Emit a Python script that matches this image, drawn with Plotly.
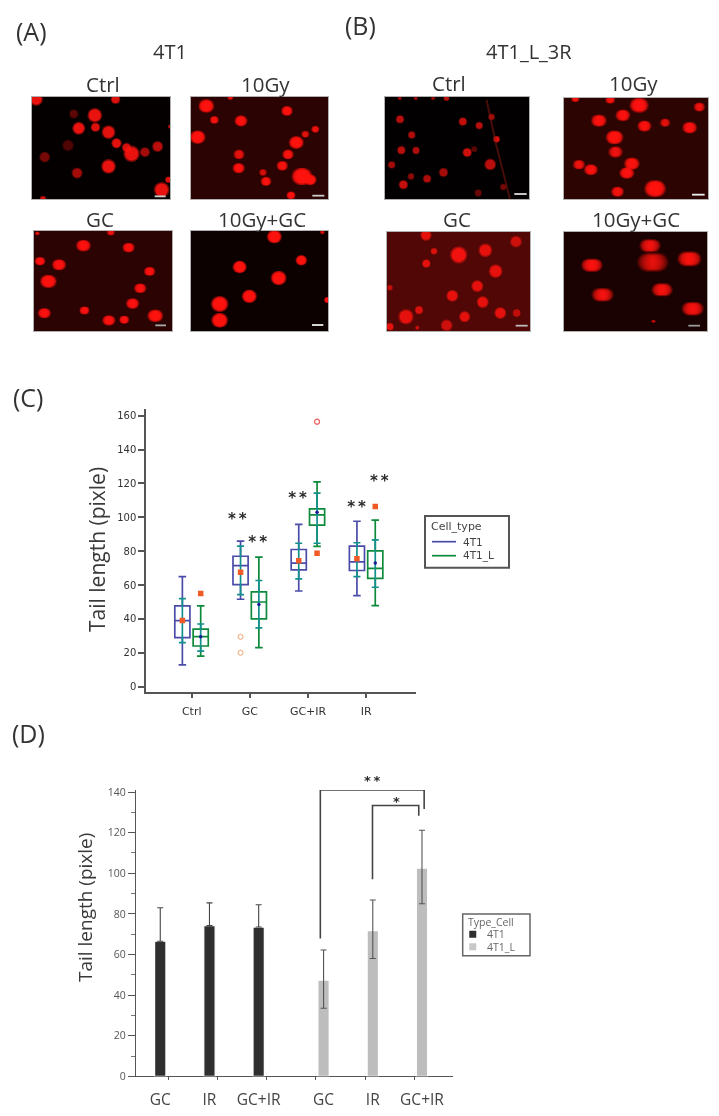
import numpy as np
import plotly.graph_objects as go

W, H = 719, 1116
FONT = "Open Sans"
TICKFONT = "DejaVu Sans"

# ---------- micrograph spots (image coordinates, relative brightness) ----------
a_ctrl_x = [110,347,222,285,287,237,326,350,380,395,435,473,205,135,326,232,485,505,130,510]
a_ctrl_y = [298,298,342,346,382,385,397,430,443,462,457,440,437,472,500,520,570,540,598,380]
a_ctrl_d = [30,22,22,34,22,30,32,24,22,38,24,26,28,26,34,26,36,15,15,10]
a_ctrl_b = [1,.9,.3,1,.9,1,.95,.95,.85,1,.6,.7,.25,.4,1,.6,1,.9,.8,.7]

a_10gy_x = [618,860,642,722,945,915,592,888,716,863,715,846,788,797,905,930,872,690]
a_10gy_y = [318,333,360,363,388,403,412,428,464,464,505,498,518,545,530,540,587,292]
a_10gy_d = [38,28,22,32,20,20,38,36,28,28,30,28,20,26,50,30,22,15]
a_10gy_b = [1,.8,.7,.8,.6,.5,1,1,.5,.7,.8,.7,.4,.8,1,1,.8,.6]

a_gc_x = [250,385,120,177,448,145,420,397,133,253,465,326,372,332,112]
a_gc_y = [737,743,784,795,815,845,866,912,941,933,949,963,961,697,700]
a_gc_d = [36,30,26,34,28,40,30,32,32,24,38,32,24,20,12]
a_gc_b = [.9,.8,.9,.9,.8,1,.8,.9,.9,.9,1,.9,.9,.6,.5]

a_combo_x = [824,905,720,837,749,660,660,983,968]
a_combo_y = [710,781,801,834,889,912,961,900,697]
a_combo_d = [36,28,34,38,36,42,40,16,12]
a_combo_b = [1,.85,1,1,1,1,1,.9,.4]

b_ctrl_x = [181,369,418,455,470,216,185,229,382,403,451,156,311,214,262,191,415,490,180,228,280,320]
b_ctrl_y = [358,365,377,351,418,405,451,452,458,448,494,495,518,530,537,555,580,562,295,295,295,295]
b_ctrl_d = [20,20,18,16,16,18,20,18,22,15,28,18,22,16,20,22,18,16,10,10,10,14]
b_ctrl_b = [.7,.75,.7,.6,.9,.65,.7,.65,.8,.3,.7,.6,.6,.5,.65,.75,.35,.4,.5,.5,.5,.7]

b_10gy_x = [897,1078,848,776,913,975,1049,823,826,875,716,752,860,945,832,705,810]
b_10gy_y = [317,322,347,363,379,369,384,413,457,492,495,510,520,567,576,297,300]
b_10gy_d = [46,28,36,38,34,26,36,42,36,38,30,34,36,52,32,20,24]
b_10gy_b = [.9,.6,.8,.8,.8,.5,.8,1,.6,.85,.6,.8,.9,1,.7,.7,.7]

b_gc_x = [258,528,282,356,436,259,467,412,150,337,428,237,198,374,481,530,320,150,232]
b_gc_y = [707,726,755,766,752,792,815,860,865,889,908,932,952,952,941,941,978,982,985]
b_gc_d = [26,28,16,40,32,20,32,28,14,28,28,20,36,26,28,20,28,18,10]
b_gc_b = [.9,.7,.8,1,.9,.9,.9,.9,.6,.9,.9,.8,.9,.9,.9,.6,.7,.9,.7]

b_combo_x = [930,755,938,1048,966,787,1058,940]
b_combo_y = [738,797,788,778,871,886,928,966]
b_combo_d = [50,50,74,56,50,52,52,12]
b_combo_b = [.75,.9,.55,.85,.8,.75,.8,.4]

panel_names = ["Ctrl", "10Gy", "GC", "10Gy+GC"]
panel_spots = [(a_ctrl_x,a_ctrl_y,a_ctrl_d,a_ctrl_b),(a_10gy_x,a_10gy_y,a_10gy_d,a_10gy_b),
               (a_gc_x,a_gc_y,a_gc_d,a_gc_b),(a_combo_x,a_combo_y,a_combo_d,a_combo_b),
               (b_ctrl_x,b_ctrl_y,b_ctrl_d,b_ctrl_b),(b_10gy_x,b_10gy_y,b_10gy_d,b_10gy_b),
               (b_gc_x,b_gc_y,b_gc_d,b_gc_b),(b_combo_x,b_combo_y,b_combo_d,b_combo_b)]
panel_stretch = [0, .22, .28, .18, 0, .28, 0, .42]
# image extents of each photograph
img_x = [(97,510),(572,983),(102,515),(574,985),(136,567),(671,1104),(141,570),(671,1101)]
img_y = [(291,598),(291,598),(693,995),(693,993),(291,598),(295,598),(697,995),(697,995)]
# position on the page (px)
page_x = [(32,170),(191,328),(34,172),(191,328),(385,529),(564,708),(387,530),(564,707)]
page_y = [(97,199),(97,199),(231,331),(231,331),(97,199),(98,199),(232,331),(232,331)]
panel_bg = ["#040000","#2a0302","#2a0302","#0d0100","#020000","#2c0402","#500705","#190201"]
bar_x = [(464,497),(936,972),(465,497),(937,971),(523,560),(1056,1094),(527,563),(1045,1080)]
bar_y = [590,588,978,975,583,585,979,979]
bar_col = ["#cccccc","#cccccc","#aaaaaa","#eeeeee","#dddddd","#eeeeee","#bbbbbb","#999999"]

# ---------- panel C data ----------
c_cats = ["Ctrl", "GC", "GC+IR", "IR"]
c_t_q1  = [29, 60.3, 69, 68.6]
c_t_med = [39, 71.5, 73, 73.7]
c_t_q3  = [47.7, 77, 81, 83]
c_t_lo  = [12.8, 51.6, 56.5, 53.8]
c_t_hi  = [65, 86, 95.8, 97.7]
c_t_mean= [39, 67.6, 74.3, 75.5]
c_t_sdhi= [52, 83, 84.7, 85]
c_t_sdlo= [26, 54.4, 63.6, 65]

c_l_q1  = [24, 40, 95.4, 64]
c_l_med = [29.5, 50, 101.5, 69.8]
c_l_q3  = [34, 56, 105, 80.2]
c_l_lo  = [18, 23, 82.8, 47.9]
c_l_hi  = [47.7, 76.5, 121, 98.3]
c_l_mean= [29.5, 48.5, 103, 73]
c_l_sdhi= [37, 62.7, 114.3, 86.7]
c_l_sdlo= [21, 34.7, 84.7, 58.7]

out_sq_cat = [0, 2, 3]
out_sq_val = [55, 78.8, 106.4]
out_op_cat = [1, 1]
out_op_val = [29.4, 20]
out_red_cat = [2]
out_red_val = [156.5]

c_star_x = [.784, 1.134, 1.82, 2.176, 2.834, 3.224]
c_star_y = [98.5, 84.8, 110.4, 166, 105.5, 121]

# ---------- panel D data ----------
d_labels = ["GC", "IR", "GC+IR", "GC", "IR", "GC+IR"]
d_t_val = [66.5, 74.2, 73.5]
d_t_top = [83, 85.4, 84.5]
d_l_val = [47.4, 71.7, 102.5]
d_l_top = [62.2, 86.8, 121.2]
d_l_bot = [33.5, 58, 85]
br1_x = [3.09, 3.09, 5.2, 5.2]
br1_y = [67.9, 141, 141, 131.6]
br2_x = [4.15, 4.15, 5.09, 5.09]
br2_y = [97, 133.4, 133.4, 128.3]

# ---------- helpers ----------
def xd(a, b): return [a / W, b / W]
def yd(t, b): return [1 - b / H, 1 - t / H]

fig = go.Figure()
layout = dict(
    template="none",
    width=W, height=H, margin=dict(l=0, r=0, t=0, b=0, pad=0), autosize=False,
    paper_bgcolor="white", plot_bgcolor="white", showlegend=False,
    barmode="overlay", boxmode="overlay", font=dict(family=FONT, color="#333333"),
)
shapes, annos = [], []

def text(x, y, s, size, color="#333333", family=FONT, angle=0, anchor="center"):
    annos.append(dict(text=s, x=x / W, y=1 - y / H, xref="paper", yref="paper", showarrow=False,
                      xanchor=anchor, yanchor="middle", textangle=angle,
                      font=dict(size=size, color=color, family=family)))

def page_rect(x0, y0, x1, y1, fill, line, lw):
    shapes.append(dict(type="rect", xref="paper", yref="paper", x0=x0 / W, x1=x1 / W, y0=1 - y0 / H, y1=1 - y1 / H,
                       fillcolor=fill, line=dict(color=line, width=lw)))

def page_line(x0, x1, y, color, lw):
    shapes.append(dict(type="line", xref="paper", yref="paper", x0=x0 / W, x1=x1 / W, y0=1 - y / H, y1=1 - y / H,
                       line=dict(color=color, width=lw)))

# ---------- micrographs ----------
for i, (sx, sy, sd, sb) in enumerate(panel_spots):
    n = i + 1
    sfx = "" if n == 1 else str(n)
    layout[f"xaxis{sfx}"] = dict(domain=xd(*page_x[i]), range=list(img_x[i]), showticklabels=False, automargin=False,
                                 ticks="", showgrid=False, zeroline=False, showline=True, mirror=True,
                                 linecolor="#b0b0b0", linewidth=1, anchor=f"y{sfx}", layer="below traces")
    layout[f"yaxis{sfx}"] = dict(domain=yd(*page_y[i]), range=[img_y[i][1], img_y[i][0]], showticklabels=False,
                                 automargin=False, ticks="", showgrid=False, zeroline=False, showline=True, mirror=True,
                                 linecolor="#b0b0b0", linewidth=1, anchor=f"x{sfx}", layer="below traces")
    shapes.append(dict(type="rect", xref=f"x{sfx} domain", yref=f"y{sfx} domain", x0=0, x1=1, y0=0, y1=1,
                       fillcolor=panel_bg[i], line_width=0, layer="below"))
    t = panel_stretch[i]
    zd = np.array(sd, dtype=float)
    steps = [0] if t == 0 else [-1, -.5, 0, .5, 1]
    for scale, op in [(1.3, .45), (1.05, .85)]:
        px = np.concatenate([np.array(sx) + k * .6 * t * zd for k in steps])
        py = np.concatenate([np.array(sy, dtype=float) for _ in steps])
        pd_ = np.concatenate([(zd / 3) * scale * (1 - .9 * t) for _ in steps])
        # copies overlap, so each contributes less light
        pb = np.concatenate([np.array(sb) * op * (1 if t == 0 else .55) for _ in steps])
        fig.add_trace(go.Scatter(x=px, y=py, mode="markers", showlegend=False, hoverinfo="skip",
                                 xaxis=f"x{sfx}", yaxis=f"y{sfx}",
                                 marker=dict(size=pd_, color="#ff1410", opacity=pb, line_width=0)))
    fig.add_trace(go.Scatter(x=list(bar_x[i]), y=[bar_y[i]] * 2, mode="lines", showlegend=False, hoverinfo="skip",
                             xaxis=f"x{sfx}", yaxis=f"y{sfx}", line=dict(color=bar_col[i], width=1.8)))

streak_x = [440, 470, 510]
streak_y = [300, 440, 598]
fig.add_trace(go.Scatter(x=streak_x, y=streak_y, mode="lines", xaxis="x5", yaxis="y5", showlegend=False,
                         hoverinfo="skip", line=dict(color="rgba(140,25,15,0.5)", width=2)))

text(31, 31, "(A)", 25); text(360, 25, "(B)", 25)
text(170, 52, "4T1", 20); text(529, 52, "4T1_L_3R", 20)
sub_x = [103, 265, 100, 262, 449, 633, 457, 636]
sub_y = [84, 84, 219, 219, 83, 83, 219, 219]
for i in range(8):
    text(sub_x[i], sub_y[i], panel_names[i % 4], 20.5)

# ---------- panel C ----------
BLUE, GREEN, TEAL = "#4a4ca8", "#0d8a3a", "#12908e"
ORANGE = "#ef5a26"
cpos = np.arange(4)
off_t, off_l = -.16, .155
layout["xaxis9"] = dict(domain=xd(146, 415.7), range=[-.785, 3.85], anchor="y9", tickvals=list(cpos),
                        ticktext=c_cats, ticks="outside", ticklen=5, tickwidth=1.5, tickcolor="#555555", automargin=False,
                        showgrid=False, zeroline=False, showline=True, linecolor="#555555", linewidth=1.5,
                        tickfont=dict(size=11, family=TICKFONT, color="#333333"), ticklabelstandoff=3)
layout["yaxis9"] = dict(domain=yd(409, 691.7), range=[-3, 164], anchor="x9", tickvals=list(range(0, 161, 20)),
                        ticks="outside", ticklen=6, tickwidth=1.5, tickcolor="#555555", automargin=False,
                        showgrid=False, zeroline=False, showline=True, linecolor="#555555", linewidth=1.5,
                        tickfont=dict(size=10, family=TICKFONT, color="#333333"))

def boxes(pos, q1, med, q3, lo, hi, color):
    fig.add_trace(go.Box(x=list(pos), q1=q1, median=med, q3=q3, lowerfence=lo, upperfence=hi,
                         width=.26, whiskerwidth=.5, boxpoints=False, showlegend=False, hoverinfo="skip",
                         fillcolor="rgba(0,0,0,0)", line=dict(color=color, width=1.7),
                         xaxis="x9", yaxis="y9"))

def means(pos, mean, sdhi, sdlo, symbol, color, size):
    fig.add_trace(go.Scatter(x=list(pos), y=mean, mode="markers", showlegend=False, hoverinfo="skip",
                             xaxis="x9", yaxis="y9", marker=dict(symbol=symbol, color=color, size=size),
                             error_y=dict(type="data", symmetric=False,
                                          array=list(np.array(sdhi) - np.array(mean)),
                                          arrayminus=list(np.array(mean) - np.array(sdlo)),
                                          color=TEAL, thickness=1.7, width=3.5)))

boxes(cpos + off_t, c_t_q1, c_t_med, c_t_q3, c_t_lo, c_t_hi, BLUE)
boxes(cpos + off_l, c_l_q1, c_l_med, c_l_q3, c_l_lo, c_l_hi, GREEN)
means(cpos + off_t, c_t_mean, c_t_sdhi, c_t_sdlo, "square", ORANGE, 5.5)
means(cpos + off_l, c_l_mean, c_l_sdhi, c_l_sdlo, "circle", "#1a1a9a", 3.5)
fig.add_trace(go.Scatter(x=np.array(out_sq_cat) + off_l, y=out_sq_val, mode="markers", showlegend=False,
                         hoverinfo="skip", xaxis="x9", yaxis="y9",
                         marker=dict(symbol="square", color=ORANGE, size=5.5)))
fig.add_trace(go.Scatter(x=np.array(out_op_cat) + off_t, y=out_op_val, mode="markers", showlegend=False,
                         hoverinfo="skip", xaxis="x9", yaxis="y9",
                         marker=dict(symbol="circle-open", color="#f2a070", size=5, line_width=1)))
fig.add_trace(go.Scatter(x=np.array(out_red_cat) + off_l, y=out_red_val, mode="markers", showlegend=False,
                         hoverinfo="skip", xaxis="x9", yaxis="y9", cliponaxis=False,
                         marker=dict(symbol="circle-open", color="#ee5a5a", size=5, line_width=1.2)))
fig.add_trace(go.Scatter(x=c_star_x, y=c_star_y, mode="text", text=["<b>*\u2009*</b>"] * 6, showlegend=False,
                         hoverinfo="skip", xaxis="x9", yaxis="y9", cliponaxis=False,
                         textfont=dict(size=15, family=TICKFONT, color="#2a2a2a")))

# legend of panel C
page_rect(425, 516, 509, 567.7, "white", "#555555", 2)
text(429, 526.5, "Cell_type", 11, "#444444", TICKFONT, anchor="left")
page_line(432, 456, 541.7, BLUE, 1.7); text(461, 541.7, "4T1", 10.5, "#444444", TICKFONT, anchor="left")
page_line(432, 456, 555.7, GREEN, 1.7); text(461, 555.7, "4T1_L", 10.5, "#444444", TICKFONT, anchor="left")

text(97, 550, "Tail length (pixle)", 21, "#3a3a3a", angle=-90)
text(29, 397, "(C)", 25)

# ---------- panel D ----------
dpos = np.arange(6)
dbar_t = dpos[:3] - .163
dbar_l = dpos[3:] + .156
xr = [-.656, 5.78]
layout["xaxis10"] = dict(domain=xd(136, 452.7), range=xr, anchor="y10", tickvals=list(dpos), ticktext=[""] * 6,
                         ticks="outside", ticklen=3, tickwidth=1, tickcolor="#555555", showgrid=False, automargin=False,
                         zeroline=False, showline=True, linecolor="#555555", linewidth=1.2, layer="below traces")
layout["xaxis11"] = dict(domain=xd(136, 452.7), range=xr, anchor="y10", overlaying="x10", automargin=False,
                         tickvals=list(dbar_t) + list(dbar_l), ticktext=d_labels, ticks="", showgrid=False,
                         zeroline=False, showline=False, ticklabelstandoff=12,
                         tickfont=dict(size=15.5, family=FONT, color="#444444"))
layout["yaxis10"] = dict(domain=yd(790, 1076.3), range=[0, 141], anchor="x10", tickvals=list(range(0, 141, 20)),
                         ticks="outside", ticklen=7, tickwidth=1, tickcolor="#555555", showgrid=False, automargin=False,
                         zeroline=False, showline=True, linecolor="#555555", linewidth=1.2,
                         minor=dict(dtick=10, ticks="outside", ticklen=4, tickcolor="#777777"),
                         tickfont=dict(size=10.5, family=FONT, color="#555555"))
for bx, by in [(br1_x, br1_y), (br2_x, br2_y)]:
    fig.add_trace(go.Scatter(x=bx, y=by, mode="lines", showlegend=False, hoverinfo="skip", cliponaxis=False,
                             xaxis="x10", yaxis="y10", line=dict(color="#444444", width=1.6)))
err_t = np.array(d_t_top) - np.array(d_t_val)
fig.add_trace(go.Bar(x=list(dbar_t), y=d_t_val, width=.23, name="4T1", showlegend=False, xaxis="x11", yaxis="y10",
                     marker=dict(color="#2f2f2f", line=dict(color="white", width=1.2)), hoverinfo="skip",
                     error_y=dict(type="data", symmetric=False, array=list(err_t), arrayminus=[0, 0, 0],
                                  color="#444444", thickness=1.1, width=3)))
fig.add_trace(go.Bar(x=list(dbar_l), y=d_l_val, width=.23, name="4T1_L", showlegend=False, xaxis="x11", yaxis="y10",
                     marker=dict(color="#bdbdbd", line=dict(color="white", width=1.2)), hoverinfo="skip",
                     error_y=dict(type="data", symmetric=False,
                                  array=list(np.array(d_l_top) - np.array(d_l_val)),
                                  arrayminus=list(np.array(d_l_val) - np.array(d_l_bot)),
                                  color="#555555", thickness=1.1, width=3)))

# legend of panel D
page_rect(462.7, 914, 530, 955.7, "white", "#666666", 1.5)
text(466, 921.7, "Type_Cell", 10.5, "#666666", FONT, anchor="left")
page_rect(469.5, 931, 476, 937.5, "#2f2f2f", "#2f2f2f", 0.5)
text(484.5, 934.2, "4T1", 10.5, "#666666", FONT, anchor="left")
page_rect(469.5, 943.5, 476, 950, "#c8c8c8", "#c8c8c8", 0.5)
text(484.5, 946.7, "4T1_L", 10.5, "#666666", FONT, anchor="left")

text(85, 908, "Tail length (pixle)", 19, "#3a3a3a", angle=-90)
text(29, 733, "(D)", 25)
text(372, 780, "<b>*\u2009*</b>", 13, "#2a2a2a", family=TICKFONT)
text(396, 801, "<b>*</b>", 13, "#2a2a2a", family=TICKFONT)

layout["shapes"] = shapes
layout["annotations"] = annos
fig.update_layout(**layout)

# the reference is a soft, out-of-focus scan: blur the photographs' spots, soften the page a little
post = """
document.body.style.margin='0';document.body.style.overflow='hidden';
var svg=document.querySelector('.main-svg');
var ns='http://www.w3.org/2000/svg';
var defs=svg.querySelector('defs');
var f=document.createElementNS(ns,'filter');f.setAttribute('id','spotblur');
f.setAttribute('x','-5%');f.setAttribute('y','-5%');f.setAttribute('width','110%');f.setAttribute('height','110%');
var g=document.createElementNS(ns,'feGaussianBlur');g.setAttribute('stdDeviation','1.5');f.appendChild(g);defs.appendChild(f);
['xy','x2y2','x3y3','x4y4','x5y5','x6y6','x7y7','x8y8'].forEach(function(c){
  var s=document.querySelector('.subplot.'+c+' .plot');
  if(s){s.querySelectorAll('.scatterlayer').forEach(function(l){l.setAttribute('filter','url(#spotblur)');});}
});
document.querySelector('.svg-container').style.filter='blur(0.45px)';
"""
fig.write_html("out.html", config=dict(displayModeBar=False), post_script=post)
